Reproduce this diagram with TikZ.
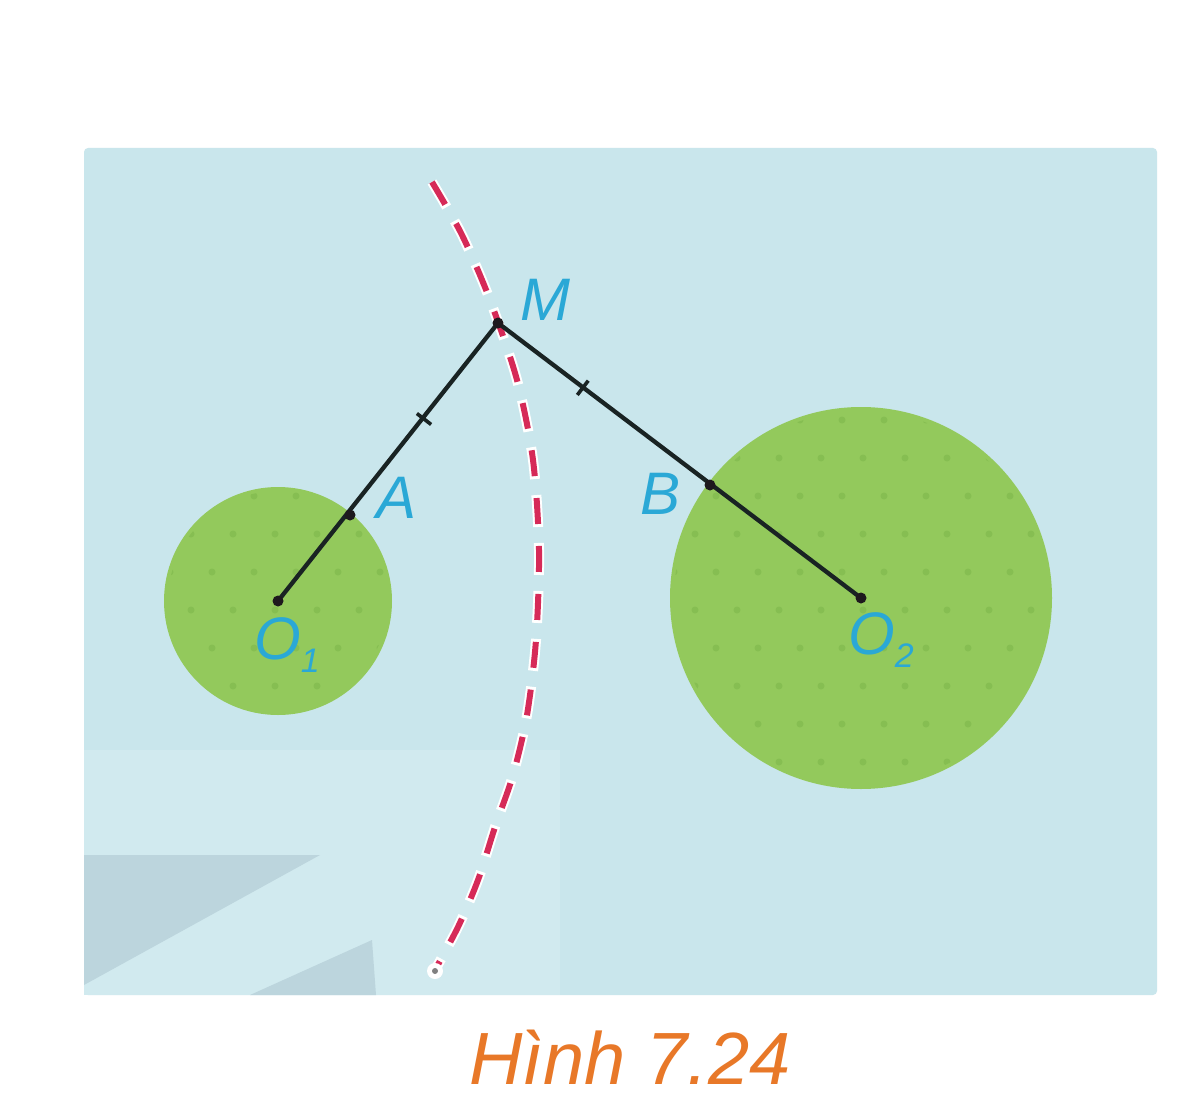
\documentclass[tikz,border=0pt]{standalone}
\usepackage{fontspec}
\setmainfont{Liberation Sans}
\usetikzlibrary{calc}
\definecolor{bgblue}{RGB}{201,230,236}
\definecolor{bglight}{RGB}{209,234,239}
\definecolor{bgdark}{RGB}{188,213,221}
\definecolor{grass}{RGB}{147,201,92}
\definecolor{grassdot}{RGB}{134,190,82}
\definecolor{hypred}{RGB}{214,42,88}
\definecolor{lbl}{RGB}{42,168,214}
\definecolor{capor}{RGB}{232,120,40}
\newcommand{\mysub}[1]{\raisebox{-0.22em}{\fontsize{34}{36}\selectfont #1}}
\tikzset{
  segline/.style={line width=4.3pt, draw={rgb,255:red,25;green,35;blue,35}},
  tickmark/.style={line width=3.6pt, draw={rgb,255:red,25;green,35;blue,35}},
  ptdot/.style={fill={rgb,255:red,30;green,25;blue,30}},
  ptlabel/.style={text=lbl, font=\fontsize{60}{64}\selectfont\itshape, inner sep=0pt},
  hypwhite/.style={draw=white, line width=10pt, dash pattern=on 32pt off 16pt, dash phase=3pt},
  hypredl/.style={draw=hypred, line width=6pt, dash pattern=on 26pt off 22pt}
}
\begin{document}
\begin{tikzpicture}[x=1pt,y=-1pt]
\useasboundingbox (0,0) rectangle (1183,1105);
\clip (0,0) rectangle (1183,1105);
\fill[white] (0,0) rectangle (1183,1105);
% background panel
\fill[bgblue, rounded corners=4pt] (84,148) rectangle (1157,995);
\fill[bglight] (84,750) rectangle (560,995);
\fill[bgdark] (84,855) -- (320,855) -- (84,985) -- cycle;
\fill[bgdark] (250,995) -- (372,940) -- (376,995) -- cycle;
% points
\coordinate (M) at (498,323);
\coordinate (A) at (350,515);
\coordinate (B) at (710,485);
\coordinate (O1) at (278,601);
\coordinate (O2) at (861,598);
% circles
\fill[grass] (O1) circle (114);
\fill[grass] (O2) circle (191);
\begin{scope}
  \clip (O1) circle (110) (O2) circle (187);
  \foreach \i in {0,...,24} {
    \foreach \j in {0,...,12} {
      \fill[grassdot] ({170+\i*42+mod(\j,2)*21},{420+\j*38}) circle (3.5);
    }
  }
\end{scope}
% hyperbola branch
\path[hypwhite] plot[smooth] coordinates {(432,182) (462,235) (490,300) (517,380) (533,460) (539,550) (536,640) (527,715) (513,775) (495,827) (478,880) (458,927) (435,970)};
\path[hypredl] plot[smooth] coordinates {(432,182) (462,235) (490,300) (517,380) (533,460) (539,550) (536,640) (527,715) (513,775) (495,827) (478,880) (458,927) (435,970)};
\coordinate (E) at (435,971);
\fill[white] (E) circle (8);
\fill[gray] (E) circle (3);
% segments
\draw[segline] (M) -- (O1);
\draw[segline] (M) -- (O2);
\coordinate (tA) at ($(M)!0.5!(A)$);
\coordinate (tB) at ($(M)!0.4!(B)$);
\draw[tickmark] ($(tA)!9pt!90:(M)$) -- ($(tA)!9pt!-90:(M)$);
\draw[tickmark] ($(tB)!9pt!90:(M)$) -- ($(tB)!9pt!-90:(M)$);
\foreach \p in {M,A,B,O1,O2} { \fill[ptdot] (\p) circle (5.5); }
% labels
\node[ptlabel] (lM) at (545,300) {M};
\node[ptlabel] (lA) at (397,498) {A};
\node[ptlabel] (lB) at (661,494) {B};
\node[ptlabel] (lO1) at (287,645) {O\mysub{1}};
\node[ptlabel] (lO2) at (881,640) {O\mysub{2}};
% caption
\node[text=capor, font=\fontsize{74}{78}\selectfont\itshape, anchor=base, inner sep=0pt] (cap) at (630,1084) {Hình 7.24};
\end{tikzpicture}
\end{document}
